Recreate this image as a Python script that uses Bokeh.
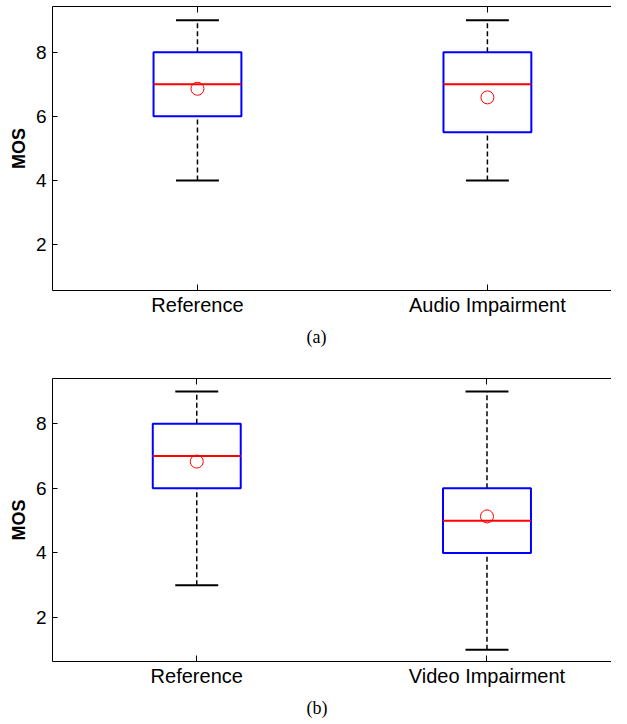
from bokeh.plotting import figure
from bokeh.models import Range1d, LinearAxis, FixedTicker, Title, ColumnDataSource
from bokeh.layouts import column
from bokeh.embed import file_html
from bokeh.resources import INLINE

# ---- data ----
cats_a = ["Reference", "Audio Impairment"]
q1_a = [6.0, 5.5]
med_a = [7.0, 7.0]
q3_a = [8.0, 8.0]
low_a = [4.0, 4.0]
high_a = [9.0, 9.0]
mean_a = [6.86, 6.59]

cats_b = ["Reference", "Video Impairment"]
q1_b = [6.0, 4.0]
med_b = [7.0, 5.0]
q3_b = [8.0, 6.0]
low_b = [3.0, 1.0]
high_b = [9.0, 9.0]
mean_b = [6.83, 5.13]

y_ticks = [2, 4, 6, 8]

BOX_W = 0.303
CAP_W = 0.148
FONT = "Liberation Sans"


def make_panel(cats, q1, med, q3, low, high, mean, caption, *, height,
               border_left, border_top, border_bottom, x_start, x_end,
               y_start, y_end, cap_offset, cap_standoff):
    pos = [i + 1 for i in range(len(cats))]
    src = ColumnDataSource(dict(
        x=pos, q1=q1, med=med, q3=q3, low=low, high=high, mean=mean,
        bx0=[x - BOX_W / 2 for x in pos], bx1=[x + BOX_W / 2 for x in pos],
        cx0=[x - CAP_W / 2 for x in pos], cx1=[x + CAP_W / 2 for x in pos],
    ))
    p = figure(width=611, height=height, output_backend="svg",
               toolbar_location=None,
               x_range=Range1d(x_start, x_end), y_range=Range1d(y_start, y_end),
               x_axis_location=None, y_axis_location=None,
               min_border_left=border_left, min_border_right=0,
               min_border_top=border_top, min_border_bottom=border_bottom)
    p.grid.visible = False
    p.outline_line_color = None
    p.background_fill_color = "white"
    p.border_fill_color = "white"

    # whiskers
    p.segment(x0="x", y0="q3", x1="x", y1="high", source=src,
              line_color="black", line_width=1.5, line_dash="5 3")
    p.segment(x0="x", y0="low", x1="x", y1="q1", source=src,
              line_color="black", line_width=1.5, line_dash="5 3")
    # caps
    p.segment(x0="cx0", y0="high", x1="cx1", y1="high", source=src,
              line_color="black", line_width=2)
    p.segment(x0="cx0", y0="low", x1="cx1", y1="low", source=src,
              line_color="black", line_width=2)
    # boxes
    p.vbar(x="x", bottom="q1", top="q3", width=BOX_W, source=src,
           fill_color=None, line_color="#0000ff", line_width=2)
    # medians
    p.segment(x0="bx0", y0="med", x1="bx1", y1="med", source=src,
              line_color="#ff0000", line_width=2)
    # means
    p.scatter(x="x", y="mean", source=src, marker="circle", size=13,
              fill_color=None, line_color="#ff0000", line_width=1)

    # left axis
    yax = LinearAxis(ticker=FixedTicker(ticks=y_ticks), axis_label="MOS")
    yax.major_tick_in = 5
    yax.major_tick_out = 0
    yax.minor_tick_line_color = None
    yax.major_label_standoff = 6
    yax.major_label_text_font = FONT
    yax.major_label_text_font_size = "19px"
    yax.major_label_text_color = "black"
    yax.axis_label_text_font = FONT
    yax.axis_label_text_font_size = "18px"
    yax.axis_label_text_font_style = "bold"
    yax.axis_label_text_color = "black"
    yax.axis_label_standoff = 4
    yax.axis_line_color = "black"
    yax.major_tick_line_color = "black"
    p.add_layout(yax, "left")

    # bottom axis
    xax = LinearAxis(ticker=FixedTicker(ticks=pos),
                     major_label_overrides={x: c for x, c in zip(pos, cats)})
    xax.major_tick_in = 6
    xax.major_tick_out = 0
    xax.minor_tick_line_color = None
    xax.major_label_standoff = 3
    xax.major_label_text_font = FONT
    xax.major_label_text_font_size = "20px"
    xax.major_label_text_color = "black"
    xax.axis_line_color = "black"
    xax.major_tick_line_color = "black"
    p.add_layout(xax, "below")

    # top border with inward ticks (no labels drawn)
    tax = LinearAxis(ticker=FixedTicker(ticks=pos))
    tax.major_tick_in = 6
    tax.major_tick_out = 0
    tax.minor_tick_line_color = None
    tax.major_label_text_font_size = "1px"
    tax.major_label_text_color = None
    tax.major_label_standoff = 0
    tax.axis_line_color = "black"
    tax.major_tick_line_color = "black"
    p.add_layout(tax, "above")

    p.add_layout(Title(text=caption, align="left", offset=cap_offset,
                       text_font="Liberation Serif", text_font_size="18px",
                       text_font_style="normal", text_color="black",
                       standoff=cap_standoff), "below")
    return p


pa = make_panel(cats_a, q1_a, med_a, q3_a, low_a, high_a, mean_a, "(a)",
                height=364, border_left=52, border_top=6, border_bottom=74,
                x_start=0.5, x_end=2.428, y_start=0.565, y_end=9.426,
                cap_offset=254, cap_standoff=13)
pb = make_panel(cats_b, q1_b, med_b, q3_b, low_b, high_b, mean_b, "(b)",
                height=359, border_left=51, border_top=14, border_bottom=60,
                x_start=0.503, x_end=2.429, y_start=0.637, y_end=9.403,
                cap_offset=254, cap_standoff=12)

layout = column(pa, pb, spacing=0)
open("out.html", "w").write(file_html(layout, INLINE))
